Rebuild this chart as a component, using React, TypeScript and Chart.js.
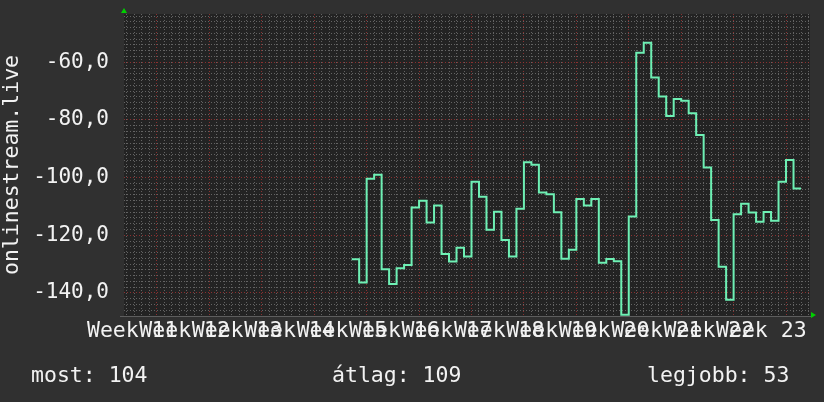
import React, { useEffect, useRef } from 'react';
import { Chart, registerables } from 'chart.js';

Chart.register(...registerables);

// ---- data ----
const weekLabels = [
  'Week 11', 'Week 12', 'Week 13', 'Week 14', 'Week 15', 'Week 16', 'Week 17',
  'Week 18', 'Week 19', 'Week 20', 'Week 21', 'Week 22', 'Week 23',
];
// label centres, in days from the first week gridline
const weekLabelCenters = [-3.3, 3.7, 10.7, 17.7, 24.7, 31.7, 38.7, 45.7, 52.7, 59.7, 66.7, 73.7, 80.7];
const xMinDay = -4.4;
const xMaxDay = 87.2;
const firstDataDay = 26;
// daily values
const dailyValues = [
  -128.3, -136.4, -100.4, -99.0, -131.8, -136.9, -131.4, -130.3, -110.4, -108.0,
  -115.6, -109.7, -126.5, -129.1, -124.3, -127.4, -101.4, -106.6, -118.1, -111.8,
  -121.6, -127.4, -110.8, -94.7, -95.5, -105.2, -105.8, -112.0, -128.1, -125.0,
  -107.4, -109.7, -107.4, -129.5, -128.2, -129.0, -147.6, -113.5, -56.7, -53.2,
  -65.3, -71.9, -78.6, -72.7, -73.3, -77.7, -85.2, -96.5, -114.7, -130.9,
  -142.4, -112.7, -109.1, -112.1, -115.3, -111.9, -115.0, -101.4, -93.9, -103.8,
];
const yMin = -148;
const yMax = -43.25;
const yMajorStep = 20;
const yMinorStep = 2;
const yTitle = 'onlinestream.live';
const footerTexts = ['most: 104', 'átlag: 109', 'legjobb: 53'];

// ---- styles ----
const FONT = '"DejaVu Sans Mono", monospace';
const OUTER_BG = '#303030';
const PLOT_BG = '#232323';
const MINOR = 'rgba(110,110,110,0.85)';
const MAJOR = 'rgba(150,50,50,0.9)';
const LINE = '#6ef0b4';
const TEXT = '#f2f2f2';
const ARROW = '#00d000';

const rrdPlugin = {
  id: 'rrdLook',
  beforeDraw(chart: any) {
    const { ctx, chartArea: a } = chart;
    ctx.save();
    ctx.fillStyle = OUTER_BG;
    ctx.fillRect(0, 0, chart.width, chart.height);
    ctx.fillStyle = PLOT_BG;
    ctx.fillRect(a.left, a.top, a.right - a.left, a.bottom - a.top);
    ctx.restore();
  },
  afterDraw(chart: any) {
    const { ctx, chartArea: a } = chart;
    ctx.save();
    // axis lines
    ctx.strokeStyle = '#5e5e5e';
    ctx.lineWidth = 1;
    ctx.beginPath();
    ctx.moveTo(a.left - 4, Math.round(a.bottom) + 0.5);
    ctx.lineTo(a.right + 1, Math.round(a.bottom) + 0.5);
    ctx.stroke();
    // arrows
    ctx.fillStyle = ARROW;
    ctx.beginPath();
    ctx.moveTo(a.left - 3, a.top - 1);
    ctx.lineTo(a.left + 3, a.top - 1);
    ctx.lineTo(a.left, a.top - 6);
    ctx.closePath();
    ctx.fill();
    ctx.beginPath();
    ctx.moveTo(a.right + 1, a.bottom - 4);
    ctx.lineTo(a.right + 1, a.bottom + 2);
    ctx.lineTo(a.right + 6, a.bottom - 1);
    ctx.closePath();
    ctx.fill();
    // footer
    ctx.fillStyle = TEXT;
    ctx.font = `21.5px ${FONT}`;
    ctx.textBaseline = 'alphabetic';
    ctx.textAlign = 'left';
    const xs = [31, 332, 647];
    footerTexts.forEach((t, i) => ctx.fillText(t, xs[i], 382));
    ctx.restore();
  },
};

export default function App() {
  const ref = useRef<HTMLCanvasElement>(null);
  useEffect(() => {
    if (!ref.current) return;
    const points = dailyValues.map((v, i) => ({ x: firstDataDay + i, y: v }));
    points.push({ x: firstDataDay + dailyValues.length, y: dailyValues[dailyValues.length - 1] });

    const chart = new Chart(ref.current, {
      type: 'line',
      data: {
        datasets: [
          {
            data: points,
            stepped: 'before',
            borderColor: LINE,
            borderWidth: 2,
            pointRadius: 0,
            fill: false,
            xAxisID: 'x',
            yAxisID: 'y',
          } as any,
        ],
      },
      options: {
        animation: false,
        responsive: false,
        maintainAspectRatio: false,
        devicePixelRatio: 1,
        layout: { padding: { top: 14, right: 14, left: 0, bottom: 0 } },
        plugins: { legend: { display: false }, tooltip: { enabled: false } },
        scales: {
          x: {
            type: 'linear',
            position: 'bottom',
            min: xMinDay,
            max: xMaxDay,
            afterBuildTicks: (s: any) => {
              s.ticks = weekLabelCenters.map((v) => ({ value: v }));
            },
            ticks: {
              autoSkip: false,
              maxRotation: 0,
              minRotation: 0,
              padding: 3,
              color: TEXT,
              font: { family: FONT, size: 21.5 },
              callback: (_v: any, i: number) => weekLabels[i],
            },
            grid: { display: false, drawTicks: false },
            border: { display: false },
            afterFit: (s: any) => {
              s.height = 86;
              s.paddingLeft = 0;
              s.paddingRight = 0;
            },
          } as any,
          xg: {
            type: 'linear',
            position: 'bottom',
            min: xMinDay,
            max: xMaxDay,
            ticks: { stepSize: 1, display: false, autoSkip: false, includeBounds: false },
            grid: {
              drawTicks: false,
              lineWidth: 1,
              color: (c: any) => (c.tick && Math.abs(c.tick.value % 7) < 1e-6 ? MAJOR : MINOR),
            },
            border: { display: false, dash: [1, 2] },
            afterFit: (s: any) => {
              s.height = 0;
              s.paddingLeft = 0;
              s.paddingRight = 0;
            },
          } as any,
          y: {
            type: 'linear',
            position: 'left',
            min: yMin,
            max: yMax,
            ticks: {
              stepSize: yMinorStep,
              autoSkip: false,
              includeBounds: false,
              padding: 15,
              color: TEXT,
              font: { family: FONT, size: 21 },
              callback: (v: any) =>
                Math.abs(v % yMajorStep) < 1e-6 ? Number(v).toFixed(1).replace('.', ',') : '',
            },
            grid: {
              drawTicks: false,
              lineWidth: 1,
              color: (c: any) =>
                c.tick && Math.abs(c.tick.value % yMajorStep) < 1e-6 ? MAJOR : MINOR,
            },
            border: { display: false, dash: [1, 2] },
            title: {
              display: true,
              text: yTitle,
              color: TEXT,
              font: { family: FONT, size: 21.5 },
              padding: { top: 0, bottom: 0 },
            },
            afterFit: (s: any) => {
              s.width = 124;
              s.paddingTop = 0;
              s.paddingBottom = 0;
            },
          } as any,
        },
      },
      plugins: [rrdPlugin],
    });
    return () => chart.destroy();
  }, []);

  return (
    <div style={{ position: 'fixed', left: 0, top: 0, width: 824, height: 402 }}>
      <canvas ref={ref} width={824} height={402} style={{ width: 824, height: 402, display: 'block' }} />
    </div>
  );
}
